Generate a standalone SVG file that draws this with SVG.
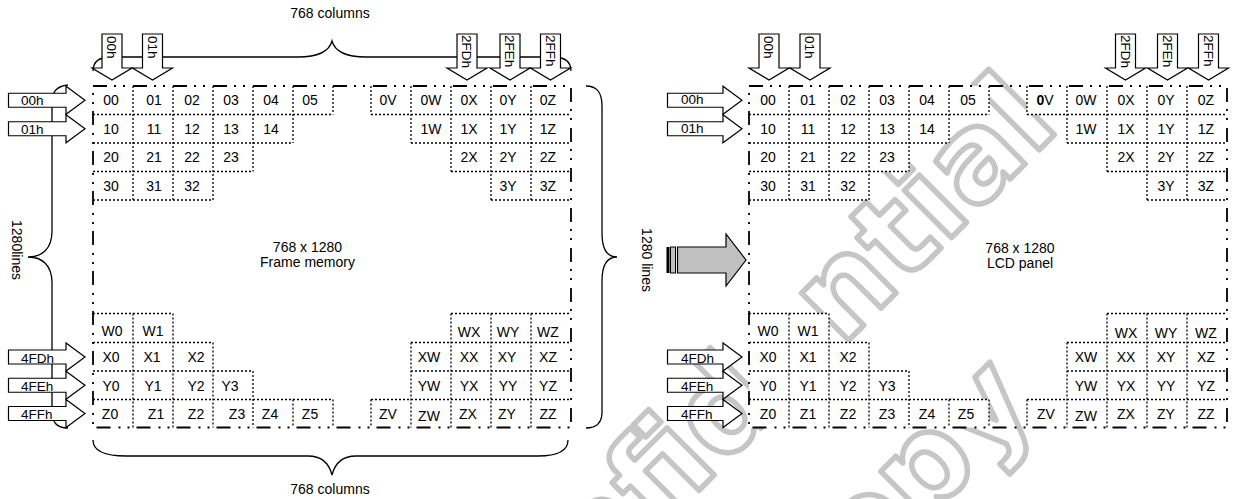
<svg xmlns="http://www.w3.org/2000/svg" width="1234" height="499" viewBox="0 0 1234 499">
<style>
text{font-family:"Liberation Sans",Arial,sans-serif;font-size:14px;fill:#000}
.c{text-anchor:middle}
.al{font-size:13.5px}
.dot{fill:none;stroke:#000;stroke-width:1.3;stroke-dasharray:2 2}
.bd{fill:none;stroke:#000;stroke-width:1.8;stroke-dasharray:14 7 2 7 2 8}
.br{fill:none;stroke:#000;stroke-width:1.3}
.ar{fill:#fff;stroke:#000;stroke-width:1.2}
.wm{font-family:"DejaVu Sans",Verdana,sans-serif;font-weight:bold;font-size:122px;fill:none;stroke:#c6c6c6;stroke-width:5.5;stroke-linejoin:round;text-anchor:middle}
</style>

<!-- watermark -->
<g id="watermark" transform="translate(767.5 421.6) rotate(-45)">
<text class="wm" x="0" y="0">Confidential</text>
<text class="wm" x="40" y="182">copy</text>
</g>

<!-- LEFT PANEL: frame memory -->
<g id="frame-memory">
<path class="dot" d="M93 114.5H333M371 114.5H571M93 143H293M411 143H571M93 171.5H253M451 171.5H571M93 200H213M491 200H571M93 313.5H173M451 313.5H571M93 342.5H213M411 342.5H571M93 371H253M411 371H571M93 399.5H333M371 399.5H571M133 86V200M133 313.5V427.5M173 86V200M173 313.5V427.5M213 86V200M213 342.5V427.5M253 86V171.5M253 371V427.5M293 86V143M293 399.5V427.5M333 86V114.5M333 399.5V427.5M371 86V114.5M371 399.5V427.5M411 86V143M411 342.5V427.5M451 86V171.5M451 313.5V427.5M491 86V200M491 313.5V427.5M531 86V200M531 313.5V427.5"/>
<path class="bd" d="M93 86H571V427.5H93Z"/>
<g id="fm-cells">
<text class="c" x="111" y="105">00</text><text class="c" x="154" y="105">01</text><text class="c" x="192" y="105">02</text><text class="c" x="231" y="105">03</text><text class="c" x="271" y="105">04</text><text class="c" x="310" y="105">05</text><text class="c" x="388" y="105">0V</text><text class="c" x="431" y="105">0W</text><text class="c" x="469" y="105">0X</text><text class="c" x="508" y="105">0Y</text><text class="c" x="548" y="105">0Z</text>
<text class="c" x="111" y="133.5">10</text><text class="c" x="154" y="133.5">11</text><text class="c" x="192" y="133.5">12</text><text class="c" x="231" y="133.5">13</text><text class="c" x="271" y="133.5">14</text><text class="c" x="431" y="133.5">1W</text><text class="c" x="469" y="133.5">1X</text><text class="c" x="508" y="133.5">1Y</text><text class="c" x="548" y="133.5">1Z</text>
<text class="c" x="111" y="162">20</text><text class="c" x="154" y="162">21</text><text class="c" x="192" y="162">22</text><text class="c" x="231" y="162">23</text><text class="c" x="469" y="162">2X</text><text class="c" x="508" y="162">2Y</text><text class="c" x="548" y="162">2Z</text>
<text class="c" x="111" y="190.5">30</text><text class="c" x="154" y="190.5">31</text><text class="c" x="192" y="190.5">32</text><text class="c" x="508" y="190.5">3Y</text><text class="c" x="548" y="190.5">3Z</text>
<text class="c" x="112" y="335.5">W0</text><text class="c" x="153" y="335.5">W1</text><text class="c" x="469" y="337">WX</text><text class="c" x="508" y="337">WY</text><text class="c" x="548" y="337">WZ</text>
<text class="c" x="111" y="362">X0</text><text class="c" x="152" y="362">X1</text><text class="c" x="196" y="362">X2</text><text class="c" x="429" y="362">XW</text><text class="c" x="469" y="362">XX</text><text class="c" x="507" y="362">XY</text><text class="c" x="548" y="362">XZ</text>
<text class="c" x="111" y="391">Y0</text><text class="c" x="153" y="391">Y1</text><text class="c" x="196" y="391">Y2</text><text class="c" x="230" y="391">Y3</text><text class="c" x="429" y="391">YW</text><text class="c" x="469" y="391">YX</text><text class="c" x="508" y="391">YY</text><text class="c" x="548" y="391">YZ</text>
<text class="c" x="110" y="419">Z0</text><text class="c" x="156" y="419">Z1</text><text class="c" x="196" y="419">Z2</text><text class="c" x="237" y="419">Z3</text><text class="c" x="270" y="419">Z4</text><text class="c" x="310" y="419">Z5</text><text class="c" x="388" y="419">ZV</text><text class="c" x="429" y="421">ZW</text><text class="c" x="468" y="419">ZX</text><text class="c" x="507" y="419">ZY</text><text class="c" x="548" y="419">ZZ</text>
</g>
<text class="c" x="307.5" y="251.5">768 x 1280</text>
<text class="c" x="307.5" y="266.5">Frame memory</text>
</g>

<!-- braces -->
<g id="connectors">
<path class="br" d="M93 71C93 61 99 57 111 57L298 57C318 57 329 52 332 41C335 52 346 57 366 57L553 57C565 57 571 61 571 71"/>
<path class="br" d="M93 440C93 451 104 456 126 456L308 456C321 456 329 463 332 475C335 463 343 456 356 456L538 456C556 456 568 452 568 440"/>
<path class="br" d="M68 85C56 86 52 92 52 104L52 231C52 249 42 257 28 257C42 257 52 265 52 283L52 410C52 422 56 428 68 428"/>
<path class="br" d="M586 86C597 86 602 92 602 106L602 233C602 250 608 257 617 257C608 257 602 264 602 281L602 412C602 422 597 428 586 428"/>
</g>
<g id="fm-labels">
<text class="c" x="330" y="17.5">768 columns</text>
<text class="c" x="330" y="494">768 columns</text>
<text class="c" transform="translate(11.7 250) rotate(90)">1280lines</text>
</g>

<!-- left panel column arrows -->
<g id="fm-col-00h"><path class="ar" d="M102 34H122V68H132L112 80L92 68H102Z"/><text class="al" transform="translate(107 36) rotate(90)">00h</text></g>
<g id="fm-col-01h"><path class="ar" d="M142.5 34H162.5V68H172.5L152.5 80L132.5 68H142.5Z"/><text class="al" transform="translate(147.5 36) rotate(90)">01h</text></g>
<g id="fm-col-2FDh"><path class="ar" d="M457 34H477V68H487L467 80L447 68H457Z"/><text class="al" transform="translate(462 35) rotate(90)">2FDh</text></g>
<g id="fm-col-2FEh"><path class="ar" d="M500 34H520V68H530L510 80L490 68H500Z"/><text class="al" transform="translate(505 35) rotate(90)">2FEh</text></g>
<g id="fm-col-2FFh"><path class="ar" d="M540.5 34H560.5V68H570.5L550.5 80L530.5 68H540.5Z"/><text class="al" transform="translate(545.5 35) rotate(90)">2FFh</text></g>
<!-- left panel row arrows -->
<g id="fm-row-00h"><path class="ar" d="M8.5 93.25H66V86.25L85 100.25L66 114.25V107.25H8.5Z"/><text class="al" x="21" y="104.5">00h</text></g>
<g id="fm-row-01h"><path class="ar" d="M8.5 121.75H66V114.75L85 128.75L66 142.75V135.75H8.5Z"/><text class="al" x="21" y="133.5">01h</text></g>
<g id="fm-row-4FDh"><path class="ar" d="M8.5 350H66V343L85 357L66 371V364H8.5Z"/><text class="al" x="21" y="362.5">4FDh</text></g>
<g id="fm-row-4FEh"><path class="ar" d="M8.5 378.25H66V371.25L85 385.25L66 399.25V392.25H8.5Z"/><text class="al" x="21" y="391">4FEh</text></g>
<g id="fm-row-4FFh"><path class="ar" d="M8.5 406.5H66V399.5L85 413.5L66 427.5V420.5H8.5Z"/><text class="al" x="21" y="419">4FFh</text></g>

<!-- RIGHT PANEL: LCD panel -->
<g id="lcd-panel">
<path fill="#fff" transform="translate(656 0)" d="M93 86H333V114.5H93ZM371 86H571V114.5H371ZM93 114.5H293V143H93ZM411 114.5H571V143H411ZM93 143H253V171.5H93ZM451 143H571V171.5H451ZM93 171.5H213V200H93ZM491 171.5H571V200H491ZM93 313.5H173V342.5H93ZM451 313.5H571V342.5H451ZM93 342.5H213V371H93ZM411 342.5H571V371H411ZM93 371H253V399.5H93ZM411 371H571V399.5H411ZM93 399.5H333V427.5H93ZM371 399.5H571V427.5H371Z"/>
<path class="dot" transform="translate(656 0)" d="M93 114.5H333M371 114.5H571M93 143H293M411 143H571M93 171.5H253M451 171.5H571M93 200H213M491 200H571M93 313.5H173M451 313.5H571M93 342.5H213M411 342.5H571M93 371H253M411 371H571M93 399.5H333M371 399.5H571M133 86V200M133 313.5V427.5M173 86V200M173 313.5V427.5M213 86V200M213 342.5V427.5M253 86V171.5M253 371V427.5M293 86V143M293 399.5V427.5M333 86V114.5M333 399.5V427.5M371 86V114.5M371 399.5V427.5M411 86V143M411 342.5V427.5M451 86V171.5M451 313.5V427.5M491 86V200M491 313.5V427.5M531 86V200M531 313.5V427.5"/>
<path class="bd" d="M749 86H1227V427.5H749Z"/>
<g id="lcd-cells">
<text class="c" x="768" y="105">00</text><text class="c" x="808" y="105">01</text><text class="c" x="848" y="105">02</text><text class="c" x="887" y="105">03</text><text class="c" x="927" y="105">04</text><text class="c" x="968" y="105">05</text><text class="c" x="1045" y="105"><tspan font-weight="bold">0</tspan>V</text><text class="c" x="1086" y="105">0W</text><text class="c" x="1126" y="105">0X</text><text class="c" x="1166" y="105">0Y</text><text class="c" x="1206" y="105">0Z</text>
<text class="c" x="768" y="133.5">10</text><text class="c" x="808" y="133.5">11</text><text class="c" x="848" y="133.5">12</text><text class="c" x="887" y="133.5">13</text><text class="c" x="927" y="133.5">14</text><text class="c" x="1086" y="133.5">1W</text><text class="c" x="1126" y="133.5">1X</text><text class="c" x="1166" y="133.5">1Y</text><text class="c" x="1206" y="133.5">1Z</text>
<text class="c" x="768" y="162">20</text><text class="c" x="808" y="162">21</text><text class="c" x="848" y="162">22</text><text class="c" x="887" y="162">23</text><text class="c" x="1126" y="162">2X</text><text class="c" x="1166" y="162">2Y</text><text class="c" x="1206" y="162">2Z</text>
<text class="c" x="768" y="190.5">30</text><text class="c" x="808" y="190.5">31</text><text class="c" x="848" y="190.5">32</text><text class="c" x="1166" y="190.5">3Y</text><text class="c" x="1206" y="190.5">3Z</text>
<text class="c" x="768" y="335.5">W0</text><text class="c" x="808" y="335.5">W1</text><text class="c" x="1126" y="337.5">WX</text><text class="c" x="1166" y="337.5">WY</text><text class="c" x="1206" y="337.5">WZ</text>
<text class="c" x="768" y="362">X0</text><text class="c" x="808" y="362">X1</text><text class="c" x="848" y="362">X2</text><text class="c" x="1086" y="362">XW</text><text class="c" x="1126" y="362">XX</text><text class="c" x="1166" y="362">XY</text><text class="c" x="1206" y="362">XZ</text>
<text class="c" x="768" y="391">Y0</text><text class="c" x="808" y="391">Y1</text><text class="c" x="848" y="391">Y2</text><text class="c" x="887" y="391">Y3</text><text class="c" x="1086" y="391">YW</text><text class="c" x="1126" y="391">YX</text><text class="c" x="1166" y="391">YY</text><text class="c" x="1206" y="391">YZ</text>
<text class="c" x="768" y="419">Z0</text><text class="c" x="808" y="419">Z1</text><text class="c" x="848" y="419">Z2</text><text class="c" x="887" y="419">Z3</text><text class="c" x="927" y="419">Z4</text><text class="c" x="966" y="419">Z5</text><text class="c" x="1046" y="419">ZV</text><text class="c" x="1086" y="421">ZW</text><text class="c" x="1126" y="419">ZX</text><text class="c" x="1166" y="419">ZY</text><text class="c" x="1206" y="419">ZZ</text>
</g>
<text class="c" x="1020" y="253">768 x 1280</text>
<text class="c" x="1020" y="268">LCD panel</text>
<text class="c" transform="translate(641.7 260) rotate(90)">1280 lines</text>
</g>

<!-- right panel scan arrow -->
<g id="lcd-scan-arrow">
<rect x="666.5" y="247" width="3" height="26" fill="#000"/>
<rect x="670.5" y="247" width="5" height="26" fill="#c0c0c0" stroke="#000" stroke-width="1"/>
<path d="M677.5 247H726V234L746 260L726 286V273H677.5Z" fill="#c0c0c0" stroke="#000" stroke-width="1.2"/>
</g>

<!-- right panel column arrows -->
<g id="lcd-col-00h"><path class="ar" d="M759 34H779V68H789L769 80L749 68H759Z"/><text class="al" transform="translate(764 36) rotate(90)">00h</text></g>
<g id="lcd-col-01h"><path class="ar" d="M800 34H820V68H830L810 80L790 68H800Z"/><text class="al" transform="translate(805 36) rotate(90)">01h</text></g>
<g id="lcd-col-2FDh"><path class="ar" d="M1115.5 34H1135.5V68H1145.5L1125.5 80L1105.5 68H1115.5Z"/><text class="al" transform="translate(1120.5 35) rotate(90)">2FDh</text></g>
<g id="lcd-col-2FEh"><path class="ar" d="M1157.5 34H1177.5V68H1187.5L1167.5 80L1147.5 68H1157.5Z"/><text class="al" transform="translate(1162.5 35) rotate(90)">2FEh</text></g>
<g id="lcd-col-2FFh"><path class="ar" d="M1198.5 34H1218.5V68H1228.5L1208.5 80L1188.5 68H1198.5Z"/><text class="al" transform="translate(1203.5 35) rotate(90)">2FFh</text></g>
<!-- right panel row arrows -->
<g id="lcd-row-00h"><path class="ar" d="M667.5 93.25H723V86.25L742 100.25L723 114.25V107.25H667.5Z"/><text class="al" x="681" y="104">00h</text></g>
<g id="lcd-row-01h"><path class="ar" d="M667.5 121.75H723V114.75L742 128.75L723 142.75V135.75H667.5Z"/><text class="al" x="681" y="133">01h</text></g>
<g id="lcd-row-4FDh"><path class="ar" d="M667.5 350H723V343L742 357L723 371V364H667.5Z"/><text class="al" x="681" y="362.5">4FDh</text></g>
<g id="lcd-row-4FEh"><path class="ar" d="M667.5 378.25H723V371.25L742 385.25L723 399.25V392.25H667.5Z"/><text class="al" x="681" y="391">4FEh</text></g>
<g id="lcd-row-4FFh"><path class="ar" d="M667.5 406.5H723V399.5L742 413.5L723 427.5V420.5H667.5Z"/><text class="al" x="681" y="419">4FFh</text></g>
</svg>
